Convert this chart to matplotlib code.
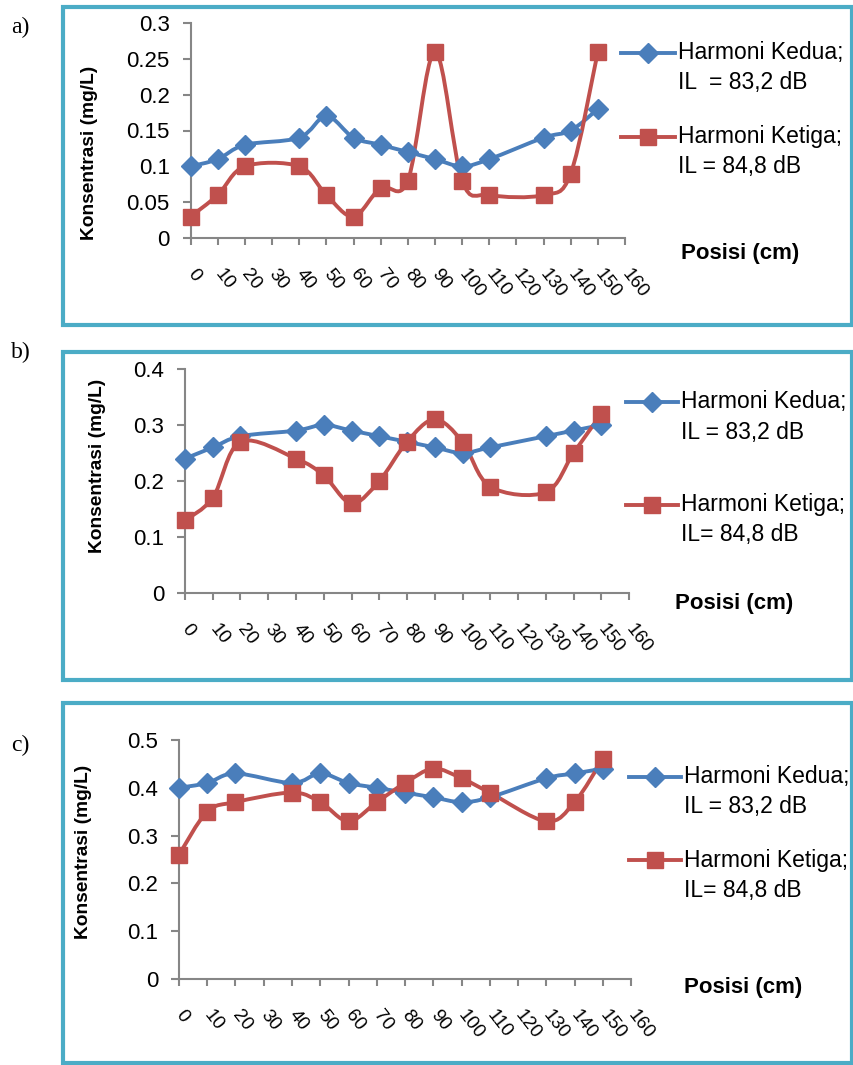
import numpy as np
import matplotlib
matplotlib.use("Agg")
import matplotlib.pyplot as plt
from matplotlib.path import Path
from matplotlib.patches import PathPatch, Rectangle
from matplotlib.lines import Line2D

plt.rcParams['font.family'] = ['Liberation Sans', 'DejaVu Sans']

# data
posisi = [0, 10, 20, 40, 50, 60, 70, 80, 90, 100, 110, 130, 140, 150]
x_ticks = list(range(0, 170, 10))

a_kedua = [0.10, 0.11, 0.13, 0.14, 0.17, 0.14, 0.13, 0.12, 0.11, 0.10, 0.11, 0.14, 0.15, 0.18]
a_ketiga = [0.03, 0.06, 0.10, 0.10, 0.06, 0.03, 0.07, 0.08, 0.26, 0.08, 0.06, 0.06, 0.09, 0.26]
b_kedua = [0.24, 0.26, 0.28, 0.29, 0.30, 0.29, 0.28, 0.27, 0.26, 0.25, 0.26, 0.28, 0.29, 0.30]
b_ketiga = [0.13, 0.17, 0.27, 0.24, 0.21, 0.16, 0.20, 0.27, 0.31, 0.27, 0.19, 0.18, 0.25, 0.32]
c_kedua = [0.40, 0.41, 0.43, 0.41, 0.43, 0.41, 0.40, 0.39, 0.38, 0.37, 0.38, 0.42, 0.43, 0.44]
c_ketiga = [0.26, 0.35, 0.37, 0.39, 0.37, 0.33, 0.37, 0.41, 0.44, 0.42, 0.39, 0.33, 0.37, 0.46]

a_yticks = [0, 0.05, 0.1, 0.15, 0.2, 0.25, 0.3]
a_ylabels = ["0", "0.05", "0.1", "0.15", "0.2", "0.25", "0.3"]
b_yticks = [0, 0.1, 0.2, 0.3, 0.4]
b_ylabels = ["0", "0.1", "0.2", "0.3", "0.4"]
c_yticks = [0, 0.1, 0.2, 0.3, 0.4, 0.5]
c_ylabels = ["0", "0.1", "0.2", "0.3", "0.4", "0.5"]

labels_kedua = ["Harmoni Kedua;", "IL  = 83,2 dB"]
labels_ketiga_a = ["Harmoni Ketiga;", "IL = 84,8 dB"]
labels_ketiga_bc = ["Harmoni Ketiga;", "IL= 84,8 dB"]
labels_kedua_bc = ["Harmoni Kedua;", "IL = 83,2 dB"]

BLUE = "#4a7ebb"
RED = "#c0504d"
FRAME = "#4bacc6"
W, H = 854, 1065


def smooth_path(xs, ys):
    # excel-like smoothed line (bezier through every point)
    pts = np.column_stack([xs, ys]).astype(float)
    n = len(pts)
    verts = [pts[0]]
    codes = [Path.MOVETO]
    for i in range(n - 1):
        p0 = pts[i - 1] if i > 0 else pts[i]
        p1 = pts[i]
        p2 = pts[i + 1]
        p3 = pts[i + 2] if i + 2 < n else pts[i + 1]
        verts += [p1 + (p2 - p0) / 6, p2 - (p3 - p1) / 6, p2]
        codes += [Path.CURVE4] * 3
    return Path(verts, codes)


def fx(px):
    return px / W


def fy(py):
    return 1 - py / H


fig = plt.figure(figsize=(8.54, 10.65), dpi=100)

panels = [
    # letter, data, axes box (px), ylim, ticks, frame(px), legend, posisi, letter y, ylabel x/y
    ("a)", a_kedua, a_ketiga, (190.6, 23, 625, 238), 0.3, a_yticks, a_ylabels,
     (63, 7, 852, 325), (621, 675, 53, 82, 137, 167), labels_kedua, labels_ketiga_a,
     (681, 253), 27, (90, 153)),
    ("b)", b_kedua, b_ketiga, (185, 369, 629, 593), 0.4, b_yticks, b_ylabels,
     (63, 352, 852, 680), (626, 678, 402, 432, 505, 535), labels_kedua_bc, labels_ketiga_bc,
     (675, 603), 352, (98, 466)),
    ("c)", c_kedua, c_ketiga, (179, 740, 631, 979), 0.5, c_yticks, c_ylabels,
     (63, 703, 852, 1063), (629, 681, 777, 807, 860, 890), labels_kedua_bc, labels_ketiga_bc,
     (684, 987), 745, (84, 852)),
]

for (letter, kedua, ketiga, box, ymax, yt, ylab, frame, leg, lab1, lab2,
     pos_xy, let_y, ylab_xy) in panels:
    x0, y0, x1, y1 = box
    ax = fig.add_axes([fx(x0), fy(y1), fx(x1) - fx(x0), fy(y0) - fy(y1)])
    ax.set_xlim(0, 160)
    ax.set_ylim(0, ymax)
    for sp in ["top", "right"]:
        ax.spines[sp].set_visible(False)
    for sp in ["left", "bottom"]:
        ax.spines[sp].set_color("#868686")
        ax.spines[sp].set_linewidth(1.5)
    ax.set_yticks(yt)
    ax.set_yticklabels(ylab, fontsize=16)
    ax.set_xticks(x_ticks)
    ax.set_xticklabels([str(v) for v in x_ticks], fontsize=13.5, rotation=-52,
                       ha="left", va="center", rotation_mode="anchor")
    ax.tick_params(axis="y", length=6, width=1.5, color="#868686", pad=9)
    ax.tick_params(axis="x", length=5, width=1.5, color="#868686", pad=19)

    for ys, col, mk, ms in [(kedua, BLUE, "D", 10), (ketiga, RED, "s", 11.5)]:
        ax.add_patch(PathPatch(smooth_path(posisi, ys), fill=False, edgecolor=col,
                               lw=2.8, capstyle="round", joinstyle="round", zorder=3))
        ax.plot(posisi, ys, linestyle="none", marker=mk, ms=ms, color=col,
                markeredgecolor=col, zorder=4, clip_on=False)

    # frame around each panel
    fig.add_artist(Rectangle((fx(frame[0]), fy(frame[3])), fx(frame[2]) - fx(frame[0]),
                             fy(frame[1]) - fy(frame[3]), transform=fig.transFigure,
                             fill=False, edgecolor=FRAME, lw=3))

    # legend
    lx0, lx1, ky1, ky2, ty1, ty2 = leg
    for col, mk, ms, yy, labs in [(BLUE, "D", 10, (ky1, ky2), lab1),
                                  (RED, "s", 11.5, (ty1, ty2), lab2)]:
        fig.add_artist(Line2D([fx(lx0), fx(lx1)], [fy(yy[0])] * 2, transform=fig.transFigure,
                              color=col, lw=2.8))
        fig.add_artist(Line2D([fx((lx0 + lx1) / 2)], [fy(yy[0])], transform=fig.transFigure,
                              marker=mk, ms=ms, color=col))
        fig.text(fx(lx1 + 3), fy(yy[0]), labs[0], fontsize=16.5, va="center", ha="left")
        fig.text(fx(lx1 + 3), fy(yy[1]), labs[1], fontsize=16.5, va="center", ha="left")

    fig.text(fx(pos_xy[0]), fy(pos_xy[1]), "Posisi (cm)", fontsize=16, fontweight="bold",
             va="center", ha="left")
    fig.text(fx(ylab_xy[0]), fy(ylab_xy[1]), "Konsentrasi (mg/L)", rotation=90,
             fontsize=13.8, fontweight="bold", va="center", ha="center")
    fig.text(fx(11), fy(let_y), letter, fontsize=17, family="Liberation Serif",
             va="center", ha="left")

fig.savefig("out.png", dpi=100)
